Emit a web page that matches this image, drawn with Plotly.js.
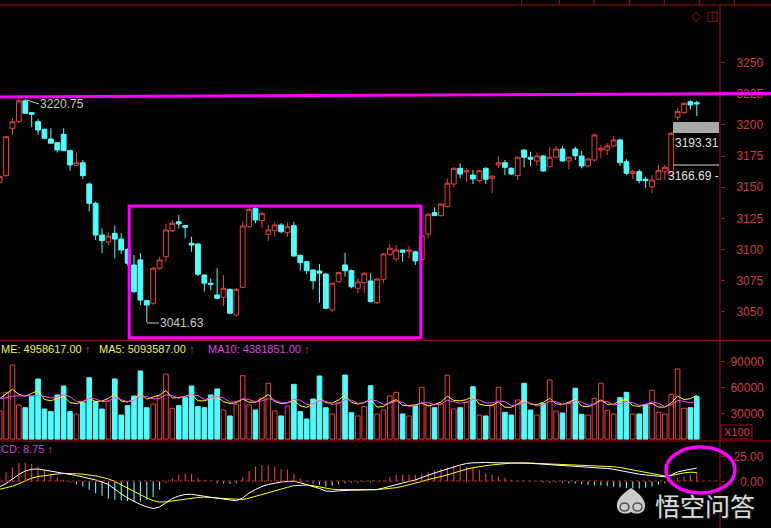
<!DOCTYPE html>
<html><head><meta charset="utf-8">
<script src="https://cdn.plot.ly/plotly-3.0.1.min.js"></script>
<style>html,body{margin:0;padding:0;background:#000;overflow:hidden}#chart{width:771px;height:528px}</style>
</head><body><div id="chart"></div>
<script>
// ---- price data (index 0..109) ----
const openP = [3154.0,3159.3,3197.3,3202.6,3219.5,3209.9,3202.7,3196.5,3188.8,3185.8,
3192.5,3179.4,3167.6,3169.7,3152.6,3137.1,3111.6,3106.0,3113.0,3108.4,
3100.0,3087.6,3091.6,3058.9,3056.8,3084.9,3094.2,3115.1,3122.3,3119.2,
3105.0,3104.4,3079.5,3072.9,3063.5,3061.6,3068.0,3047.4,3069.6,3118.3,
3133.1,3123.2,3112.2,3115.1,3119.7,3113.5,3119.1,3095.3,3090.2,3083.5,
3082.7,3080.3,3051.4,3074.1,3087.6,3083.0,3068.8,3073.3,3074.7,3057.3,
3076.1,3096.1,3092.4,3099.6,3098.3,3098.2,3092.0,3112.4,3129.6,3127.2,
3134.4,3152.6,3165.2,3162.2,3159.8,3155.3,3165.2,3157.2,3167.9,3169.7,
3165.2,3159.3,3179.9,3174.1,3171.1,3175.1,3166.5,3174.1,3180.7,3171.1,
3180.7,3175.1,3167.1,3171.9,3179.9,3179.9,3183.1,3188.0,3170.5,3161.2,
3162.5,3156.4,3150.4,3156.4,3162.5,3159.5,3206.2,3209.9,3218.7,3217.9];
const highP = [3159.5,3191.0,3205.4,3221.4,3220.75,3210.5,3204.6,3197.3,3197.3,3186.3,
3197.3,3180.0,3177.8,3171.9,3153.7,3138.4,3117.0,3113.5,3119.2,3113.0,
3101.0,3095.6,3097.0,3059.4,3086.0,3094.2,3120.5,3123.7,3127.7,3119.7,
3110.3,3104.8,3080.0,3076.9,3084.9,3079.5,3068.5,3069.0,3122.3,3133.1,
3133.9,3129.6,3119.7,3122.3,3121.1,3121.7,3122.3,3096.0,3091.0,3084.0,
3088.3,3081.0,3073.5,3082.0,3097.4,3084.0,3076.9,3081.5,3080.9,3077.0,
3097.0,3104.4,3103.6,3100.0,3102.8,3099.0,3113.0,3129.0,3133.9,3137.0,
3157.2,3166.0,3169.2,3165.2,3163.9,3164.0,3166.0,3159.5,3175.1,3171.9,
3166.0,3174.5,3180.5,3178.6,3177.8,3176.0,3182.6,3183.1,3183.1,3175.0,
3182.6,3179.1,3173.5,3193.0,3183.9,3185.3,3191.2,3189.0,3172.5,3163.9,
3164.4,3158.5,3159.8,3167.9,3167.9,3194.3,3213.4,3218.0,3220.1,3219.5];
const lowP = [3152.5,3158.5,3192.0,3202.0,3209.0,3198.6,3192.0,3188.5,3185.0,3177.8,
3179.0,3163.3,3167.3,3156.4,3130.4,3107.6,3097.0,3103.6,3092.9,3096.4,
3087.0,3064.8,3055.4,3041.63,3055.0,3083.5,3090.2,3114.0,3117.0,3109.0,
3098.2,3078.7,3066.1,3067.5,3060.0,3054.6,3048.0,3046.0,3069.0,3118.0,
3121.1,3117.0,3106.8,3110.3,3113.0,3110.3,3094.0,3083.0,3080.3,3068.0,
3057.3,3052.0,3050.0,3073.5,3078.2,3068.8,3064.8,3064.8,3057.5,3056.2,
3072.9,3095.0,3090.2,3090.2,3092.9,3087.6,3089.0,3109.0,3127.0,3126.5,
3134.0,3150.0,3157.2,3154.5,3152.6,3153.7,3152.6,3145.1,3165.2,3159.8,
3159.8,3155.8,3166.0,3167.1,3167.1,3162.5,3166.0,3173.3,3170.5,3164.4,
3171.9,3165.2,3165.7,3170.5,3173.3,3175.9,3182.0,3167.1,3159.8,3156.4,
3153.2,3149.2,3145.1,3156.0,3155.8,3158.5,3203.5,3209.0,3212.6,3207.2];
const closeP = [3158.5,3190.6,3202.6,3219.5,3209.4,3208.6,3196.0,3189.3,3185.3,3179.9,
3179.4,3167.9,3169.7,3159.3,3137.1,3111.6,3107.1,3110.8,3108.4,3099.6,
3089.0,3066.1,3059.4,3055.4,3084.9,3091.6,3115.7,3121.1,3120.5,3117.8,
3103.6,3080.1,3072.9,3072.1,3060.8,3068.8,3048.8,3068.0,3118.9,3132.3,
3123.7,3129.1,3115.7,3119.7,3114.3,3118.3,3094.8,3089.4,3083.0,3074.9,
3080.9,3052.8,3072.9,3081.4,3083.0,3070.1,3073.9,3080.9,3058.1,3076.3,
3096.4,3101.0,3099.6,3097.8,3099.6,3090.8,3111.0,3128.3,3127.2,3136.5,
3153.2,3165.2,3160.6,3163.3,3156.6,3163.3,3156.4,3159.0,3169.7,3166.0,
3160.6,3174.1,3174.1,3172.5,3175.1,3163.1,3174.1,3180.7,3171.1,3174.1,
3175.3,3167.1,3172.7,3192.0,3181.3,3183.1,3188.0,3169.7,3161.2,3162.5,
3155.3,3155.3,3155.8,3163.3,3166.0,3193.3,3210.7,3217.4,3216.1,3216.9];
// ---- volume (x100) and its moving averages ----
const volume = [32700,54400,86200,39700,36500,49300,69900,35000,31900,51300,
61700,31900,29200,42400,71400,43500,35000,44300,69900,28000,
38900,50100,79200,36500,40800,50100,75700,35800,38900,48200,
61700,37700,36500,51300,58300,33800,26900,40500,73700,39700,
33800,47400,64900,32700,26900,38500,63700,31900,23400,46600,
73400,36500,29200,42400,74500,30700,26900,37700,62100,29200,
33800,50100,54400,29200,26900,38800,60200,38800,36500,40500,
74200,35000,36500,42800,60900,28000,26900,38800,60200,31200,
28000,45500,64900,33800,28000,41600,68700,32700,30300,41600,
59100,28800,28000,47400,64900,33500,29200,48200,54400,29200,
29200,39600,56700,31200,29200,52100,81500,35800,36500,49586];
const volMA5 = [47000,53000,58000,52000,49900,53200,56300,46100,44500,47500,
50000,42400,41200,43300,47300,43700,44300,47300,52800,44100,
43200,46200,53200,46500,49100,51300,56500,47800,48300,49700,
52100,44500,44600,47100,49100,43500,41400,42200,46600,42900,
42900,47000,51900,43700,41100,42100,45300,38700,36900,40800,
47800,42400,41800,45600,51200,42700,40700,42400,46400,37300,
37900,42600,45900,39300,38900,39900,41900,38800,40200,43000,
50000,45000,44500,45800,49900,40600,39000,39500,43000,37000,
37000,40700,46000,40700,40000,42800,47400,41000,40300,43000,
46500,38500,37600,41000,45600,40500,40600,44600,46000,38900,
38000,40100,41800,37200,37200,41800,50100,46000,47000,50936];
const volMA10 = [47000,48000,50000,50000,50000,50500,51000,49500,48000,48700,
51600,49300,43600,43900,47400,46800,43300,44300,48100,45700,
43500,45300,50300,49700,46600,47300,51400,50500,47400,49400,
51700,50500,46200,47700,49400,47800,42900,43400,46900,46000,
43200,44200,47000,45200,42000,42500,46200,45300,40300,41000,
44900,43900,40300,41300,46000,45200,41600,42100,46000,44300,
40300,41700,44200,42900,38100,38900,42200,42400,39800,40900,
45000,43500,41700,43000,46400,45300,42000,42000,44400,43500,
38800,39900,42700,41800,38500,39900,44100,43500,40500,41500,
44600,43000,39300,40600,44300,43500,39600,41100,43500,42300,
39300,40400,43200,41600,38000,39900,45100,43900,42100,43819];
// ---- MACD ----
const macdDIF = [-5.3,-2,2.5,7,10.5,12.2,12.5,11.5,10,9.3,
8.5,7.6,6,4.5,3.2,1.5,-0.5,-3,-7.5,-12.5,
-16.5,-20,-23,-25.3,-27,-25.5,-21.5,-17,-14.5,-13,
-12.8,-13.5,-14.7,-15.8,-16.8,-17.8,-18.7,-19.3,-16.5,-11.5,
-8,-5,-3,-1.5,-0.5,0,0.3,-1.3,-3,-5,
-7,-9.5,-10,-9.3,-8.8,-8.7,-8.7,-8.7,-8.5,-8,
-6.5,-4.7,-2.8,-1.5,0,1.5,4,6.5,8.5,10.5,
12.8,14.5,16.5,18,18.7,19,19,18.8,18.7,18.8,
19,18.8,18.5,18.2,17.7,17.3,17,16.7,16.4,16,
15.7,15.3,14.8,14.3,13.8,13,12.2,11,9.5,8,
7.3,6.6,6,5.3,4.7,6.5,9.5,11,12.5,13.4];
const macdDEA = [-7.8,-6.5,-4.7,-2.2,1,3.4,5,6,6.8,7.5,
8,8.2,7.8,7.3,6.6,5.6,4.2,2.5,0,-3.3,
-7,-10.2,-13.3,-16.5,-19.2,-20.5,-20.3,-19.3,-18.7,-18,
-17,-16,-15.6,-15.8,-16.4,-17,-17.5,-18,-18,-16.6,
-14.8,-12.8,-11,-9,-7,-5.8,-4.2,-3.5,-3.5,-4.2,
-5.4,-7,-7.8,-8,-8,-8.2,-8.3,-8.5,-8.4,-8.2,
-7.5,-7,-6.2,-4.9,-3.4,-1.9,0,1.9,3.3,4.8,
6.5,8.5,10.8,12.4,13.8,15,15.8,16.6,17.3,17.9,
18.4,18.6,18.7,18.5,18.1,17.8,17.5,17.2,17,16.8,
16.7,16.6,16.4,16.1,15.8,15.3,14.8,14,12.8,11.5,
10.8,9.8,8.5,7,5.5,6,7.6,8.6,9.3,9.0];
const macdHist = [5,9.3,14.3,18.3,19,17.7,15,11,7.7,4.3,
1.7,-0.7,-2.7,-5,-8.3,-11.7,-14.3,-17,-18.3,-19,
-19.7,-20.3,-20.3,-18.3,-15.7,-8.3,-1,3.3,6.7,8.3,
7.7,3.7,1,-0.5,-1.7,-1.7,-2.3,-1.7,4.3,10.3,
15,16.3,16.3,15,12.3,11.7,7.7,3.3,0.7,-1.7,
-3.3,-5,-4.3,-2.7,-1.7,-1,-1,-0.7,-1,-0.3,
1,5,6.7,6.7,6.7,6.7,7.7,9.3,11,12.7,
14.3,16,16,15,14.3,11.7,8.3,6.7,5,3.7,
1.7,1,0.3,-0.3,-0.3,-0.7,-1,-1,-1.3,-1.7,
-2,-2.7,-3.3,-3.7,-4,-4.7,-5.3,-6,-6.7,-7,
-7,-6.3,-5,-3.3,-1.7,1,3.7,4.7,6.3,8.75];
// ---- axis ticks / labels ----
const priceTicks = [3050,3075,3100,3125,3150,3175,3200,3225,3250];
const volTicks = [30000,60000,90000];
const volTickText = ['30000','60000','90000'];
const macdTicks = [0,25];
const macdTickText = ['\u20070.00','25.00'];
const headerTexts = {vol:'ME: 4958617.00', ma5:'MA5: 5093587.00', ma10:'MA10: 4381851.00', macd:'CD: 8.75'};
const markTexts = {high:'3220.75', low:'3041.63', boxTop:'3193.31', boxBot:'3166.69 -'};

const idx = openP.map((_, i) => i);
const RED = '#e8413c', CYAN = '#54fcfc', AXIS = '#a01414', LABEL = '#d23c3c', MAG = '#ff00ff';
const PW = 720, PH = 528;
const px = v => v / PW, py = v => 1 - v / PH;

const isUp = idx.map(i => closeP[i] >= openP[i]);

const traces = [
  {type:'candlestick', x: idx, open: openP, high: highP, low: lowP, close: closeP,
   xaxis:'x', yaxis:'y', whiskerwidth:0, hoverinfo:'none', showlegend:false,
   increasing:{line:{color:RED, width:1}, fillcolor:'#000000'},
   decreasing:{line:{color:CYAN, width:1}, fillcolor:CYAN}},
  {type:'bar', x: idx, y: volume, xaxis:'x', yaxis:'y2', width:0.72, hoverinfo:'none',
   marker:{color: isUp.map(u => u ? '#000000' : CYAN), line:{color: isUp.map(u => u ? RED : CYAN), width:1}}},
  {type:'scatter', mode:'lines', x: idx, y: volMA5, xaxis:'x', yaxis:'y2', line:{color:'#ffff00', width:1}, hoverinfo:'none'},
  {type:'scatter', mode:'lines', x: idx, y: volMA10, xaxis:'x', yaxis:'y2', line:{color:'#ff44ff', width:1}, hoverinfo:'none'},
  {type:'bar', x: idx, y: macdHist, xaxis:'x', yaxis:'y3', width:0.17, hoverinfo:'none',
   marker:{color: macdHist.map(v => v >= 0 ? RED : '#6ff0f0'), line:{width:0}}},
  {type:'scatter', mode:'lines', x: idx, y: macdDEA, xaxis:'x', yaxis:'y3', line:{color:'#ffff00', width:1}, hoverinfo:'none'},
  {type:'scatter', mode:'lines', x: idx, y: macdDIF, xaxis:'x', yaxis:'y3', line:{color:'#ffffff', width:1}, hoverinfo:'none'}
];

function L(x0,y0,x1,y1,color,width,dash){return {type:'line',xref:'paper',yref:'paper',x0:px(x0),y0:py(y0),x1:px(x1),y1:py(y1),line:{color:color,width:width,dash:dash||'solid'}};}
function R(x0,y0,x1,y1,color,width,fill,type){return {type:type||'rect',xref:'paper',yref:'paper',x0:px(x0),y0:py(y0),x1:px(x1),y1:py(y1),line:{color:color,width:width},fillcolor:fill||'rgba(0,0,0,0)'};}
function P(pts,fill){let s='';pts.forEach((p,k)=>{s+=(k===0?'M':p.length===6?'C':'L');for(let j=0;j<p.length;j+=2){s+=(j?' ':'')+px(p[j]).toFixed(5)+','+py(p[j+1]).toFixed(5);if(j+2<p.length)s+=' ';}s+=' ';});return {type:'path',xref:'paper',yref:'paper',path:s+'Z',fillcolor:fill,line:{width:0}};}

const shapes = [
  L(0,5,771,5,AXIS,1),
  L(0,340.5,771,340.5,AXIS,1),
  L(0,441,771,441,AXIS,1),
  L(720,5,720,528,AXIS,1),
  L(0,481,719,481,'#b82828',1,'dot'),
  R(673,122,719,133,'rgba(0,0,0,0)',0,'#a8a8a8'),
  L(673,165,719,165,'#d8d8d8',1),
  R(721,425,752,439,AXIS,1),
  L(27,100,39,104,'#c8c8c8',1),
  L(147,323,159,323,'#c8c8c8',1),
  L(0,97,771,93.5,MAG,3),
  R(129.2,206,420.8,337.8,MAG,3),
  R(666,447,735,493,MAG,3.5,null,'circle'),
  P([[631,488],[640,494,646,500,645,507],[644,514,636,515,631,512],[626,515,618,514,617,507],[616,500,622,494,631,488]],'rgba(225,225,225,0.9)'),
  R(620,503,629,511,'#555',1.5,null,'circle'),
  R(633,503,642,511,'#555',1.5,null,'circle')
];
[521.7,559.3,594,629.3,664.3,699.3,734.3].forEach(x => shapes.push(L(x,0,x,5,AXIS,1)));

function A(text,x,y,color,size,anchor,family,extra){return Object.assign({xref:'paper',yref:'paper',x:px(x),y:py(y),text:text,showarrow:false,xanchor:anchor||'left',yanchor:'middle',borderpad:0,font:{family:family||'Liberation Sans, Arial, sans-serif',size:size,color:color}},extra||{});}
const arrow = '<span style="color:' + RED + '">\u2191</span>';

const annotations = [
  A(headerTexts.vol + ' ' + arrow,0,348.5,'#f0f050',11,'left'),
  A(headerTexts.ma5 + ' ' + arrow,98,348.5,'#f0f050',11,'left'),
  A(headerTexts.ma10 + ' ' + arrow,207,348.5,'#e040e0',11,'left'),
  A(headerTexts.macd + ' ' + arrow,0,448.5,'#d040d0',11,'left'),
  A(markTexts.high,39,104,'#c8c8c8',12,'left'),
  A(markTexts.low,159,323,'#c8c8c8',12,'left'),
  A(markTexts.boxTop,674,142.5,'#e0e0e0',12,'left'),
  A(markTexts.boxBot,667,175.5,'#e0e0e0',12,'left'),
  A('X100',736.5,432,LABEL,11,'center'),
  A('\u25C7',696,15,'#a01818',13,'center','DejaVu Sans'),
  A('\u25EB',712,15,'#a01818',13,'center','DejaVu Sans'),
  A('悟空问答',705,505,'rgba(238,238,238,0.93)',25,'center','Noto Sans CJK SC',{font:{family:'Noto Sans CJK SC',size:25,color:'rgba(238,238,238,0.93)',shadow:'1px 1px 2px rgba(60,60,60,0.9)'}})
];

const yCommon = {side:'right', anchor:'x', ticks:'outside', ticklen:4, tickcolor:AXIS, tickwidth:1,
  showgrid:false, zeroline:false, showline:false, automargin:false, fixedrange:true,
  tickfont:{family:'Liberation Sans, Arial, sans-serif', size:12, color:LABEL}};

const layout = {
  width:771, height:528, margin:{l:0, r:51, t:0, b:0, pad:0},
  paper_bgcolor:'#000000', plot_bgcolor:'#000000', showlegend:false,
  barmode:'overlay', boxgap:0.25, boxgroupgap:0, dragmode:false,
  xaxis:{range:[0.047,112.63], visible:false, showgrid:false, zeroline:false, rangeslider:{visible:false}, fixedrange:true},
  yaxis:Object.assign({}, yCommon, {domain:[0.35606,1], range:[3027.3,3300.4], tickmode:'array', tickvals:priceTicks, ticklabelstandoff:9}),
  yaxis2:Object.assign({}, yCommon, {domain:[0.16667,0.35417], range:[-1047,114071], tickmode:'array', tickvals:volTicks, ticktext:volTickText, ticklabelstandoff:3}),
  yaxis3:Object.assign({}, yCommon, {domain:[0,0.16288], range:[-46.5,39.5], tickmode:'array', tickvals:macdTicks, ticktext:macdTickText, ticklabelstandoff:6}),
  shapes:shapes, annotations:annotations
};

Plotly.newPlot('chart', traces, layout, {staticPlot:true, displayModeBar:false});
</script></body></html>
